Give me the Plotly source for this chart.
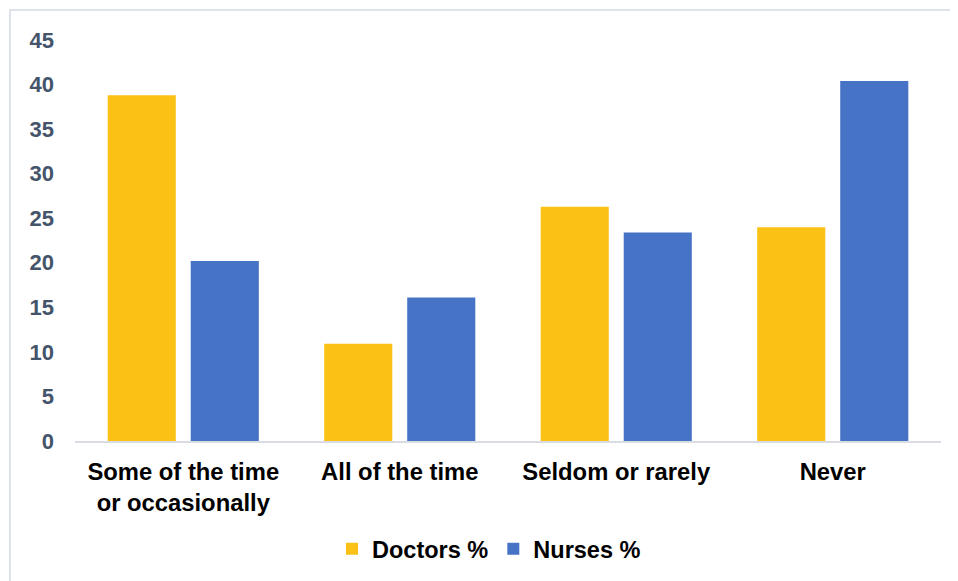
import plotly.graph_objects as go

categories = ["Some of the time<br>or occasionally", "All of the time", "Seldom or rarely", "Never"]
doctors = [38.8, 10.9, 26.3, 24.0]
nurses = [20.2, 16.1, 23.4, 40.4]
y_ticks = [0, 5, 10, 15, 20, 25, 30, 35, 40, 45]

# page body has an 8px margin, so the figure is laid out 8px in from the window edge
OFF = 8
W, H = 958 - OFF, 581 - OFF
L, T = 75 - OFF, 40 - OFF
PR, PB = 941 - OFF, 441 - OFF
R, B = W - PR, H - PB
pw, ph = PR - L, PB - T

FONT = "Liberation Sans, Arial, sans-serif"

fig = go.Figure()
fig.add_trace(go.Bar(name="Doctors %", x=categories, y=doctors,
                     marker=dict(color="#FCC115", line=dict(width=0))))
fig.add_trace(go.Bar(name="Nurses %", x=categories, y=nurses,
                     marker=dict(color="#4673C6", line=dict(width=0))))

def px_x(v):
    return (v - OFF - L) / pw

def px_y(v):
    return (PB - (v - OFF)) / ph

fig.add_shape(type="rect", xref="paper", yref="paper",
              x0=px_x(10), x1=px_x(1000), y0=px_y(10), y1=px_y(650),
              line=dict(color="#DEE3EB", width=2), fillcolor="rgba(0,0,0,0)", layer="below")

fig.update_layout(
    width=W, height=H,
    margin=dict(l=L, r=R, t=T, b=B, autoexpand=False),
    paper_bgcolor="white", plot_bgcolor="white",
    barmode="group", bargap=0.233, bargroupgap=0.18,
    font=dict(family=FONT),
    showlegend=True,
    legend=dict(orientation="h", x=px_x(489), xanchor="center", y=px_y(549), yanchor="middle",
                font=dict(size=23.5, color="#000000", family=FONT, weight="bold"),
                itemwidth=30, tracegroupgap=0),
)
fig.update_xaxes(showline=True, linecolor="#D9DDE3", linewidth=2, showgrid=False,
                 ticks="", tickfont=dict(size=23.8, color="#000000", family=FONT, weight="bold"),
                 ticklabelstandoff=8)
fig.update_yaxes(range=[0, 45], tickvals=y_ticks, showgrid=False, zeroline=False, showline=False,
                 ticks="", tickfont=dict(size=22, color="#44546A", family=FONT, weight="bold"),
                 ticklabelstandoff=20)

fig.write_html("out.html")
